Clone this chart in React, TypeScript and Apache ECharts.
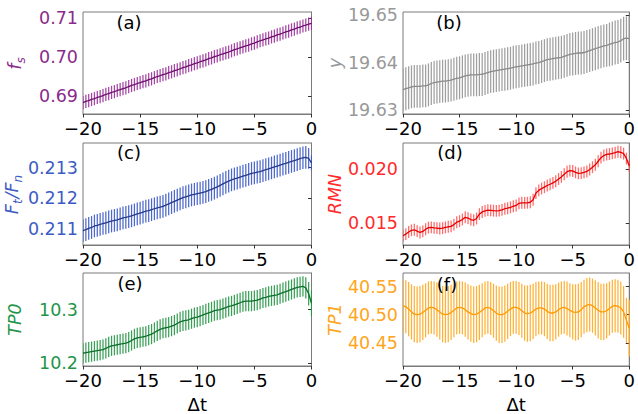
import React, { useEffect, useRef } from "react";
import * as echarts from "echarts";

// x grid (Δt)
const dt = [-20,-19.75,-19.5,-19.25,-19,-18.75,-18.5,-18.25,-18,-17.75,-17.5,-17.25,-17,-16.75,-16.5,-16.25,-16,-15.75,-15.5,-15.25,
  -15,-14.75,-14.5,-14.25,-14,-13.75,-13.5,-13.25,-13,-12.75,-12.5,-12.25,-12,-11.75,-11.5,-11.25,-11,-10.75,-10.5,-10.25,
  -10,-9.75,-9.5,-9.25,-9,-8.75,-8.5,-8.25,-8,-7.75,-7.5,-7.25,-7,-6.75,-6.5,-6.25,-6,-5.75,-5.5,-5.25,
  -5,-4.75,-4.5,-4.25,-4,-3.75,-3.5,-3.25,-3,-2.75,-2.5,-2.25,-2,-1.75,-1.5,-1.25,-1,-0.75,-0.5,-0.25,0];
const dtTicks = [-20, -15, -10, -5, 0];

// (a) f_s
const fsMean = [0.6883,0.6886,0.6888,0.6891,0.6893,0.6896,0.6898,0.6901,0.6904,0.6906,0.6909,0.6911,0.6914,0.6916,0.6919,0.6921,0.6924,0.6927,0.6929,0.6932,
  0.6934,0.6937,0.6939,0.6942,0.6944,0.6947,0.6950,0.6952,0.6955,0.6957,0.6960,0.6962,0.6965,0.6967,0.6970,0.6973,0.6975,0.6978,0.6980,0.6983,
  0.6985,0.6988,0.6990,0.6993,0.6996,0.6998,0.7001,0.7003,0.7006,0.7008,0.7011,0.7013,0.7016,0.7019,0.7021,0.7024,0.7026,0.7029,0.7031,0.7034,
  0.7036,0.7039,0.7042,0.7044,0.7047,0.7049,0.7052,0.7054,0.7057,0.7059,0.7062,0.7065,0.7067,0.7070,0.7072,0.7075,0.7077,0.7080,0.7082,0.7085,0.7087];
const fsErr = [0.0017,0.0017,0.0017,0.0017,0.0017,0.0017,0.0017,0.0017,0.0017,0.0017,0.0017,0.0017,0.0017,0.0017,0.0017,0.0017,0.0017,0.0017,0.0017,0.0017,
  0.0017,0.0017,0.0017,0.0017,0.0017,0.0017,0.0017,0.0017,0.0017,0.0017,0.0017,0.0017,0.0017,0.0017,0.0017,0.0017,0.0017,0.0017,0.0017,0.0017,
  0.0017,0.0017,0.0017,0.0017,0.0017,0.0017,0.0017,0.0017,0.0017,0.0017,0.0017,0.0017,0.0017,0.0017,0.0017,0.0017,0.0017,0.0017,0.0017,0.0017,
  0.0017,0.0017,0.0017,0.0017,0.0017,0.0017,0.0017,0.0017,0.0017,0.0017,0.0017,0.0017,0.0017,0.0017,0.0017,0.0017,0.0017,0.0017,0.0017,0.0017,0.0017];
const fsTicks = [0.69, 0.70, 0.71];

// (b) y
const yMean = [19.6343,19.6345,19.6347,19.6349,19.6350,19.6350,19.6350,19.6351,19.6351,19.6353,19.6356,19.6358,19.6359,19.6360,19.6361,19.6361,19.6362,19.6363,19.6365,19.6367,
  19.6368,19.6370,19.6372,19.6373,19.6374,19.6374,19.6374,19.6375,19.6375,19.6377,19.6379,19.6381,19.6382,19.6383,19.6384,19.6385,19.6386,19.6387,19.6388,19.6390,
  19.6391,19.6392,19.6393,19.6394,19.6395,19.6396,19.6397,19.6399,19.6400,19.6402,19.6404,19.6406,19.6407,19.6408,19.6409,19.6410,19.6411,19.6413,19.6415,19.6417,
  19.6418,19.6419,19.6420,19.6420,19.6421,19.6423,19.6425,19.6427,19.6429,19.6431,19.6433,19.6435,19.6436,19.6438,19.6440,19.6442,19.6443,19.6446,19.6450,19.6451,19.6450];
const yErr = [0.0045,0.0045,0.0045,0.0045,0.0045,0.0045,0.0045,0.0045,0.0045,0.0045,0.0045,0.0045,0.0045,0.0045,0.0045,0.0045,0.0045,0.0045,0.0045,0.0045,
  0.0045,0.0045,0.0045,0.0045,0.0045,0.0045,0.0045,0.0045,0.0045,0.0045,0.0045,0.0045,0.0045,0.0045,0.0045,0.0045,0.0045,0.0045,0.0045,0.0045,
  0.0045,0.0045,0.0045,0.0045,0.0045,0.0045,0.0045,0.0045,0.0045,0.0045,0.0045,0.0045,0.0045,0.0045,0.0045,0.0045,0.0045,0.0045,0.0045,0.0045,
  0.0045,0.0045,0.0045,0.0045,0.0045,0.0045,0.0045,0.0045,0.0045,0.0045,0.0045,0.0045,0.0045,0.0046,0.0046,0.0046,0.0046,0.0046,0.0046,0.0046,0.0046];
const yTicks = [19.63, 19.64, 19.65];

// (c) Ft/Fn
const ftMean = [0.21095,0.21098,0.21102,0.21105,0.21110,0.21112,0.21115,0.21118,0.21120,0.21123,0.21126,0.21128,0.21130,0.21133,0.21136,0.21138,0.21140,0.21143,0.21146,0.21149,
  0.21152,0.21155,0.21158,0.21160,0.21163,0.21166,0.21169,0.21171,0.21174,0.21178,0.21182,0.21186,0.21190,0.21194,0.21198,0.21202,0.21205,0.21208,0.21211,0.21213,
  0.21215,0.21217,0.21219,0.21222,0.21226,0.21229,0.21233,0.21237,0.21242,0.21247,0.21252,0.21256,0.21260,0.21263,0.21266,0.21269,0.21272,0.21275,0.21278,0.21281,
  0.21283,0.21285,0.21287,0.21290,0.21293,0.21296,0.21299,0.21302,0.21305,0.21308,0.21311,0.21314,0.21317,0.21320,0.21323,0.21326,0.21329,0.21332,0.21333,0.21330,0.21315];
const ftErr = [0.00037,0.00037,0.00037,0.00037,0.00037,0.00037,0.00037,0.00037,0.00037,0.00037,0.00037,0.00037,0.00037,0.00037,0.00037,0.00037,0.00037,0.00037,0.00037,0.00037,
  0.00037,0.00037,0.00037,0.00037,0.00037,0.00037,0.00037,0.00037,0.00037,0.00037,0.00037,0.00037,0.00037,0.00037,0.00037,0.00037,0.00037,0.00037,0.00037,0.00037,
  0.00037,0.00037,0.00037,0.00037,0.00037,0.00037,0.00037,0.00037,0.00037,0.00037,0.00037,0.00037,0.00037,0.00037,0.00037,0.00037,0.00037,0.00037,0.00037,0.00037,
  0.00037,0.00037,0.00037,0.00037,0.00037,0.00037,0.00037,0.00037,0.00037,0.00037,0.00037,0.00037,0.00037,0.00037,0.00037,0.00037,0.00037,0.00037,0.00037,0.00034,0.00024];
const ftTicks = [0.211, 0.212, 0.213];

// (d) RMN
const rmnMean = [0.01385,0.01400,0.01420,0.01435,0.01440,0.01428,0.01415,0.01425,0.01445,0.01460,0.01462,0.01458,0.01455,0.01452,0.01455,0.01462,0.01468,0.01472,0.01488,0.01510,
  0.01520,0.01535,0.01556,0.01548,0.01535,0.01528,0.01545,0.01585,0.01605,0.01615,0.01622,0.01620,0.01617,0.01615,0.01617,0.01625,0.01635,0.01640,0.01648,0.01658,
  0.01665,0.01685,0.01690,0.01690,0.01690,0.01695,0.01718,0.01780,0.01805,0.01822,0.01835,0.01850,0.01862,0.01875,0.01890,0.01910,0.01930,0.01955,0.01978,0.01988,
  0.01985,0.01972,0.01962,0.01965,0.01972,0.01980,0.01998,0.02020,0.02042,0.02075,0.02108,0.02128,0.02138,0.02142,0.02148,0.02155,0.02163,0.02158,0.02145,0.02100,0.02030];
const rmnErr = [0.00055,0.00055,0.00055,0.00055,0.00055,0.00055,0.00055,0.00055,0.00055,0.00055,0.00055,0.00055,0.00055,0.00055,0.00055,0.00055,0.00055,0.00055,0.00055,0.00055,
  0.00055,0.00055,0.00055,0.00055,0.00055,0.00055,0.00055,0.00055,0.00055,0.00055,0.00055,0.00055,0.00055,0.00055,0.00055,0.00055,0.00055,0.00055,0.00055,0.00055,
  0.00055,0.00055,0.00055,0.00055,0.00055,0.00055,0.00055,0.00055,0.00055,0.00055,0.00055,0.00055,0.00055,0.00055,0.00055,0.00055,0.00055,0.00055,0.00055,0.00055,
  0.00055,0.00055,0.00055,0.00055,0.00055,0.00055,0.00055,0.00055,0.00055,0.00055,0.00055,0.00055,0.00055,0.00055,0.00055,0.00055,0.00055,0.00055,0.00055,0.00055,0.00055];
const rmnTicks = [0.015, 0.020];

// (e) TP0
const tp0Mean = [10.218,10.219,10.220,10.221,10.222,10.223,10.224,10.225,10.227,10.230,10.232,10.233,10.234,10.235,10.236,10.237,10.239,10.242,10.245,10.247,
  10.248,10.249,10.250,10.252,10.254,10.257,10.260,10.263,10.265,10.266,10.267,10.269,10.271,10.274,10.277,10.279,10.280,10.281,10.283,10.285,
  10.286,10.288,10.290,10.292,10.294,10.296,10.298,10.299,10.300,10.302,10.304,10.306,10.307,10.309,10.311,10.313,10.315,10.316,10.316,10.316,
  10.317,10.318,10.320,10.322,10.323,10.325,10.326,10.327,10.328,10.330,10.332,10.334,10.336,10.338,10.340,10.342,10.343,10.344,10.341,10.330,10.312];
const tp0Err = [0.019,0.019,0.019,0.019,0.019,0.019,0.019,0.019,0.019,0.019,0.019,0.019,0.019,0.019,0.019,0.019,0.019,0.019,0.019,0.019,
  0.019,0.019,0.019,0.019,0.019,0.019,0.019,0.019,0.019,0.019,0.019,0.019,0.019,0.019,0.019,0.019,0.019,0.019,0.019,0.019,
  0.019,0.019,0.019,0.019,0.019,0.019,0.019,0.019,0.019,0.019,0.019,0.019,0.019,0.019,0.019,0.019,0.019,0.019,0.019,0.019,
  0.019,0.019,0.019,0.019,0.019,0.019,0.019,0.019,0.019,0.019,0.019,0.019,0.019,0.019,0.019,0.019,0.019,0.019,0.020,0.022,0.024];
const tp0Ticks = [10.2, 10.3];

// (f) TP1
const tp1Mean = [40.516,40.514,40.510,40.505,40.501,40.500,40.501,40.504,40.508,40.512,40.513,40.512,40.509,40.505,40.501,40.500,40.501,40.504,40.508,40.512,
  40.513,40.512,40.509,40.505,40.502,40.500,40.501,40.504,40.508,40.512,40.513,40.511,40.507,40.503,40.500,40.500,40.502,40.506,40.510,40.513,
  40.513,40.511,40.507,40.503,40.502,40.503,40.506,40.510,40.512,40.512,40.510,40.506,40.503,40.503,40.505,40.509,40.512,40.513,40.511,40.508,
  40.505,40.504,40.505,40.509,40.514,40.517,40.518,40.516,40.512,40.508,40.505,40.505,40.507,40.511,40.515,40.516,40.515,40.512,40.505,40.490,40.476];
const tp1Err = [0.047,0.047,0.048,0.049,0.050,0.050,0.050,0.049,0.048,0.047,0.047,0.047,0.048,0.049,0.050,0.050,0.050,0.049,0.048,0.047,
  0.047,0.047,0.048,0.049,0.050,0.050,0.050,0.049,0.048,0.047,0.047,0.047,0.048,0.049,0.050,0.050,0.050,0.049,0.048,0.047,
  0.047,0.047,0.048,0.049,0.050,0.050,0.049,0.048,0.047,0.047,0.048,0.049,0.050,0.050,0.049,0.048,0.047,0.047,0.048,0.048,
  0.049,0.050,0.050,0.049,0.048,0.048,0.048,0.048,0.049,0.050,0.050,0.050,0.049,0.048,0.047,0.047,0.047,0.047,0.046,0.040,0.050];
const tp1Ticks = [40.45, 40.5, 40.55];

const FONT = "DejaVu Sans";

type Panel = {
  mean: number[]; err: number[]; ticks: number[]; min: number; max: number; dec: number;
  left: number; top: number; name: string;
  labelColor: string; lineColor: string; barColor: string; barOpacity: number; letter: string; lx: number; ly: number;
};

const panels: Panel[] = [
  { mean: fsMean, err: fsErr, ticks: fsTicks, min: 0.68535, max: 0.7116, dec: 2, left: 83, top: 12,
    name: "{i|f}{s|s}", labelColor: "#8b2a8b", lineColor: "#6e0f6e", barColor: "#9a309a", barOpacity: 0.9, letter: "(a)", lx: 129, ly: 22 },
  { mean: yMean, err: yErr, ticks: yTicks, min: 19.6292, max: 19.6506, dec: 2, left: 403, top: 12,
    name: "{i|y}", labelColor: "#999999", lineColor: "#8a8a8a", barColor: "#9a9a9a", barOpacity: 0.95, letter: "(b)", lx: 449, ly: 22 },
  { mean: ftMean, err: ftErr, ticks: ftTicks, min: 0.21048, max: 0.2138, dec: 3, left: 83, top: 143,
    name: "{i|F}{s|t}{i|/F}{s|n}", labelColor: "#3d5bc4", lineColor: "#253a8c", barColor: "#3a58c6", barOpacity: 0.9, letter: "(c)", lx: 129, ly: 152 },
  { mean: rmnMean, err: rmnErr, ticks: rmnTicks, min: 0.01299, max: 0.02244, dec: 3, left: 403, top: 143,
    name: "{i|RMN}", labelColor: "#ff2a2a", lineColor: "#e60000", barColor: "#ff4545", barOpacity: 0.8, letter: "(d)", lx: 450, ly: 152 },
  { mean: tp0Mean, err: tp0Err, ticks: tp0Ticks, min: 10.194, max: 10.369, dec: 1, left: 83, top: 273,
    name: "{i|TP0}", labelColor: "#23954a", lineColor: "#0d6f2c", barColor: "#259645", barOpacity: 0.9, letter: "(e)", lx: 130, ly: 283 },
  { mean: tp1Mean, err: tp1Err, ticks: tp1Ticks, min: 40.409, max: 40.574, dec: 2, left: 403, top: 273,
    name: "{i|TP1}", labelColor: "#ffa520", lineColor: "#ff9a00", barColor: "#ffad2a", barOpacity: 0.95, letter: "(f)", lx: 447, ly: 284 },
];

const PW = 228.5;
const PH = 102;

function fmtMinus(v: number, dec: number) {
  const s = Math.abs(v).toFixed(dec);
  return v < 0 ? "\u2212" + s : s;
}

export default function App() {
  const ref = useRef<HTMLDivElement>(null);
  useEffect(() => {
    if (!ref.current) return;
    const chart = echarts.init(ref.current, null, { renderer: "svg" });
    const grids: any[] = [];
    const xAxes: any[] = [];
    const yAxes: any[] = [];
    const series: any[] = [];
    const graphics: any[] = [];
    panels.forEach((p, k) => {
      grids.push({ left: p.left, top: p.top, width: PW, height: PH, show: true, borderColor: "#7a7a7a", borderWidth: 1, backgroundColor: "transparent" });
      const bottomRow = k >= 4;
      xAxes.push({
        gridIndex: k, type: "value", min: -20, max: 0, interval: 5,
        axisLine: { show: true, onZero: false, lineStyle: { color: "#7a7a7a", width: 1 } },
        axisTick: { show: true, length: 3.5, inside: false, customValues: dtTicks, lineStyle: { color: "#333", width: 1 } },
        axisLabel: { fontSize: 18, color: "#000", fontFamily: FONT, margin: 5, customValues: dtTicks, formatter: (v: number) => fmtMinus(v, 0) },
        splitLine: { show: false },
        name: bottomRow ? "Δt" : "", nameLocation: "middle", nameGap: 29,
        nameTextStyle: { fontSize: 18, color: "#000", fontFamily: FONT },
      });
      yAxes.push({
        gridIndex: k, type: "value", min: p.min, max: p.max,
        axisLine: { show: true, lineStyle: { color: "#7a7a7a", width: 1 } },
        axisTick: { show: true, length: 3.5, customValues: p.ticks, lineStyle: { color: "#333", width: 1 } },
        axisLabel: { fontSize: 17.5, color: p.labelColor, fontFamily: FONT, margin: 5, customValues: p.ticks, formatter: (v: number) => v.toFixed(p.dec) },
        splitLine: { show: false },
        name: p.name, nameLocation: "middle", nameRotate: 90, nameGap: 59,
        nameTextStyle: {
          color: p.labelColor, fontFamily: FONT,
          rich: {
            i: { fontSize: 17.5, fontStyle: "italic", color: p.labelColor, fontFamily: FONT, lineHeight: 24, verticalAlign: "bottom" },
            s: { fontSize: 12, fontStyle: "italic", color: p.labelColor, fontFamily: FONT, lineHeight: 24, verticalAlign: "bottom", padding: [0, 1, -3, 0] },
          },
        },
      });
      const n = Math.min(dt.length, p.mean.length, p.err.length);
      const bars: number[][] = [];
      const line: number[][] = [];
      for (let i = 0; i < n; i++) {
        bars.push([dt[i], p.mean[i] - p.err[i], p.mean[i] + p.err[i]]);
        line.push([dt[i], p.mean[i]]);
      }
      const barColor = p.barColor;
      const barOpacity = p.barOpacity;
      series.push({
        type: "custom", xAxisIndex: k, yAxisIndex: k, data: bars, clip: true,
        encode: { x: 0, y: [1, 2] },
        renderItem: (params: any, api: any) => {
          const a = api.coord([api.value(0), api.value(1)]);
          const b = api.coord([api.value(0), api.value(2)]);
          return { type: "line", shape: { x1: a[0], y1: a[1], x2: b[0], y2: b[1] }, style: { stroke: barColor, lineWidth: 1.25, opacity: barOpacity } };
        },
        z: 2,
      });
      series.push({
        type: "line", xAxisIndex: k, yAxisIndex: k, data: line, showSymbol: false, symbol: "none",
        lineStyle: { color: p.lineColor, width: 1.3 }, z: 3, clip: true,
      });
      graphics.push({
        type: "text", x: p.lx, y: p.ly, z: 10,
        style: { text: p.letter, fontSize: 18, fontFamily: FONT, fill: "#000", align: "center", verticalAlign: "middle" },
      });
    });
    chart.setOption({
      animation: false,
      backgroundColor: "#ffffff",
      grid: grids, xAxis: xAxes, yAxis: yAxes, series, graphic: graphics,
    });
    return () => chart.dispose();
  }, []);
  return <div ref={ref} style={{ position: "fixed", left: 0, top: 0, width: 638, height: 414 }} />;
}
